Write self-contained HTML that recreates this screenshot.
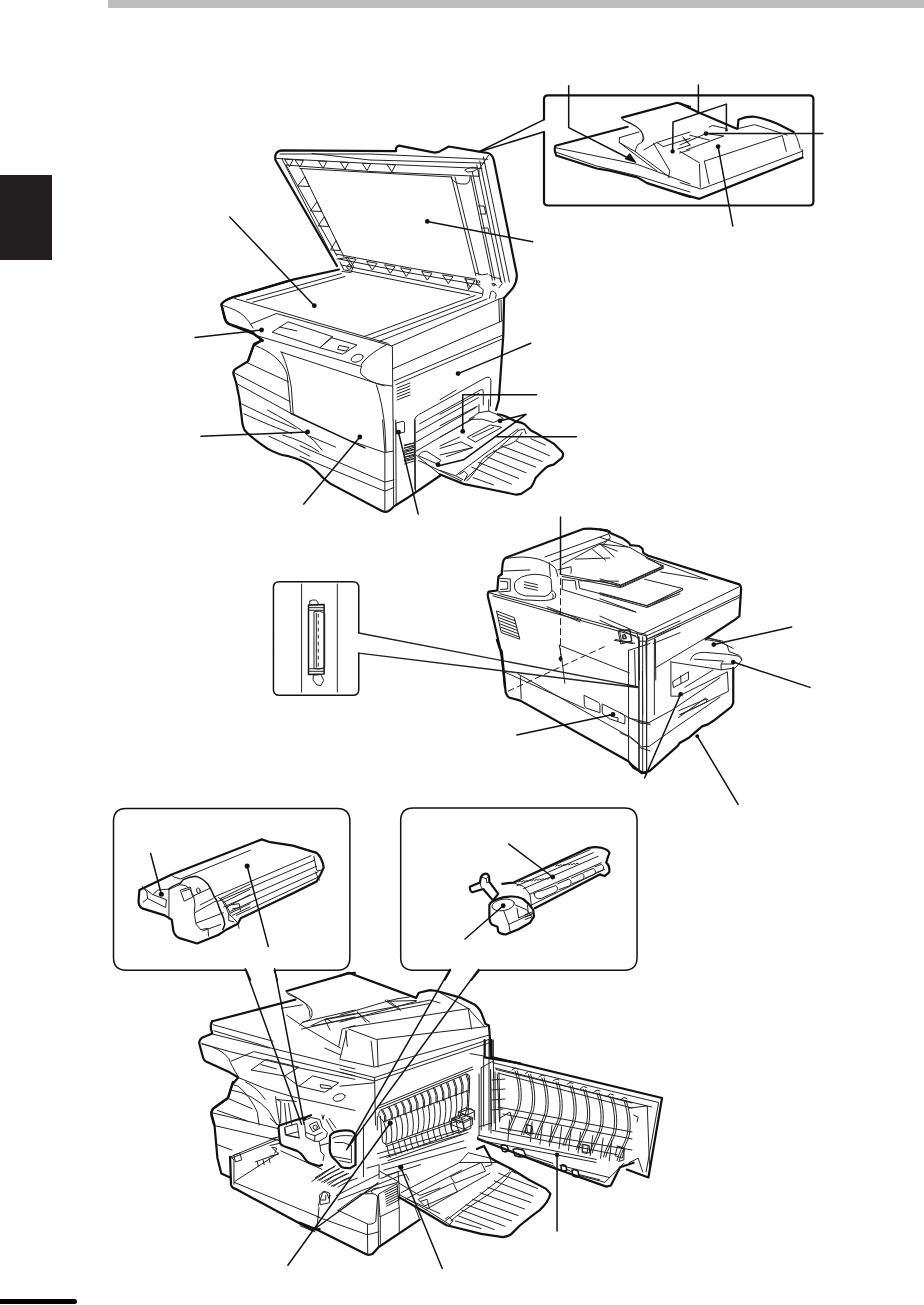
<!DOCTYPE html>
<html><head><meta charset="utf-8">
<style>
html,body{margin:0;padding:0;background:#fff;}
body{width:924px;height:1305px;position:relative;overflow:hidden;font-family:"Liberation Sans",sans-serif;}
#bar{position:absolute;left:108px;top:0;width:816px;height:8px;background:#bebebe;border-bottom:0 solid #b4b4b4;}
#tab{position:absolute;left:0;top:175px;width:52px;height:85px;background:#231f20;}
#foot{position:absolute;left:0;top:1299px;width:77px;height:5px;background:#000;border-radius:0 3px 3px 0;}
svg{position:absolute;left:0;top:0;}
svg *{vector-effect:non-scaling-stroke;}
.k{fill:none;stroke:#111;stroke-width:2.2;stroke-linejoin:round;stroke-linecap:round;}
.m{fill:none;stroke:#111;stroke-width:1.5;stroke-linejoin:round;stroke-linecap:round;}
.t{fill:none;stroke:#222;stroke-width:1;stroke-linejoin:round;stroke-linecap:round;}
.d{fill:#111;stroke:none;}
.w{fill:#fff;}
</style></head>
<body>
<div id="bar"></div>
<div id="tab"></div>
<div id="foot"></div>
<svg width="924" height="1305" viewBox="0 0 924 1305">

<!-- LID (real coords) -->
<g id="lid">
<path class="k" d="M337,266 L275.4,160 Q274,151 282,150.3 L396,151.2 L396,148.4 Q397,146 399,145.6 L434.7,152.6 L439,151.9 L448.8,146.5 L479,151.6 L488,153 Q492,154 493.8,160 L516.7,274 Q517.5,281 513,288 L505,297"/>
<path class="t" d="M280,154 L370,154 L487.7,159.3"/>
<path class="t" d="M312,153.5 L370,160 L484.8,163.1"/>
<path class="t" d="M276.5,158.4 L370,163.5 L481.9,168.5"/>
<path class="t" d="M286,165 L370,171.5 L479,176.3"/>
<path class="t" d="M300,168.5 L451.5,177"/>
<path class="t" d="M282,159 L333,258"/>
<path class="t" d="M286,165 L337,256"/>
<path class="t" d="M300.8,168.4 L344,257"/>
<path class="t" d="M483.4,157 L509.4,282 M479.8,161 L505,282 M476.8,165 L501.1,282 M472.3,172 L494.8,280 M470.8,176 L492.4,280 M488.7,155 L479,169.5 L479,176.3"/>
<path class="t" d="M465,170 Q470,166 478,168 Q475,172 468,172 Z M451,178 Q455,185 466,184 Q470,183 470,177 M478,206 L484,206 L486,214 L480,214 M482,228 L488,228 L489,232"/>
<path class="t" d="M451.5,177 L475.8,275.5 M455,177 L479,275"/>
<path class="t" d="M336,254 L410,268 L476,279 M339,259 L410,273 L480,285 M341,265 L410,278.8 L482,293.6 M345,270 L410,283 L470,295"/>
<path class="t" d="M285.0,159.3 L293.0,159.7 L289.5,166.3 Z
M295.5,159.9 L303.5,160.3 L300.0,166.9 Z
M318.8,161.0 L326.8,161.4 L323.3,168.0 Z
M340.7,162.1 L348.7,162.5 L345.2,169.1 Z
M362.7,163.3 L370.7,163.7 L367.2,170.3 Z
M387.5,164.5 L395.5,164.9 L392.0,171.5 Z
M297.9,186.0 L309.4,186.5 L305.0,177.0 Z
M310.8,211.0 L321.6,211.5 L317.2,202.0 Z
M318.5,226.0 L328.9,226.5 L324.5,217.0 Z
M330.9,250.0 L340.6,250.5 L336.2,241.0 Z
M346.0,257.4 L356.0,259.3 L351.5,265.8 Z
M367.0,261.4 L377.0,263.3 L372.5,269.8 Z
M385.0,264.8 L395.0,266.7 L390.5,273.2 Z
M401.0,267.8 L411.0,269.7 L406.5,276.2 Z
M422.0,271.5 L432.0,273.2 L427.5,279.8 Z
M443.0,275.0 L453.0,276.7 L448.5,283.3 Z
M465.0,278.7 L475.0,280.3 L470.5,287.0 Z"/>
<path class="m" d="M479,151.6 L544,119.7 M481,151.2 L544,131.8"/>
<path class="m" d="M427.3,221.4 L532.6,241.8"/><circle class="d" cx="427.3" cy="221.4" r="2.4"/>
</g>
<g transform="translate(440,255) scale(0.08658)">
<path class="t" d="M410,210 Q480,245 550,220 M570,230 Q590,265 700,270 M420,290 L425,340 Q470,380 500,400 L490,470 M570,500 L590,420 Q630,405 650,460 L640,500"/>
<path class="t" d="M300,280 L330,400 L400,300 M600,330 Q640,320 650,350 M690,280 L720,330 L680,380"/>
<circle class="t" cx="445" cy="310" r="14"/><circle class="t" cx="620" cy="345" r="12"/>
</g>
<path class="t" d="M337,259 L347.7,257.5 L353.5,266 L351,272.5 L342,271.5 M340,262 L344,270"/><circle class="t" cx="349.1" cy="267" r="2.3"/>
<!-- BODY TOP -->
<g id="bodytop">
<path class="k" d="M339,269.5 L294,279.4 L232.9,297.3 Q222,301 221.5,305 L225.8,321.1 Q227,324 231,325 L243.1,329.8 L252.9,333.6 L262.6,340.1 L254,343.9 L248.5,360"/>
<path class="t" d="M234.6,298.5 L387.5,343.3 L391.2,346.1"/>
<path class="t" d="M246.4,300 L341.5,273.5 M252.9,302.2 L345,276.5"/>
<path class="t" d="M364.2,336.5 L475,295.5"/>
<path class="t" d="M370,339.2 L482,297 M379,341.5 L487,299"/>
<path class="t" d="M391.2,346.1 L498.8,299.1 L504.1,297.6"/>
<path class="m" d="M229.8,217 L314.3,305.7"/><circle class="d" cx="314.3" cy="305.7" r="2.4"/>
<path class="m" d="M195,337.5 L261.6,330"/><circle class="d" cx="261.6" cy="330" r="2.4"/>
</g>


<!-- PANEL (real) -->
<g id="panel">
<path class="k" d="M287.5,281.1 L232.9,297.3 Q222,301 221.5,305 L223.8,315.3 Q225,322 229.6,324.1 L252,331.9 L262.7,341"/>
<path class="t" d="M222.6,305.4 Q238,310 244,316 Q250,322 253,328"/>
<path class="t" d="M251.2,323.8 L276.5,313.5 L389.5,345.3"/>
<path class="t" d="M272.5,331.9 L288,321.8 L332.9,336.8 L320.2,347.5 Z"/>
<path class="t" d="M279.3,327 L296.8,330.9"/>
<path class="t" d="M320.2,347.5 L331,337.5 L357,345 L343,354 Z"/>
<path class="t" d="M339.5,345.5 L349,347.5 L346,351 L338,349.5 Z"/>
<ellipse class="t" cx="357.2" cy="358.2" rx="6.2" ry="3.6" transform="rotate(-20 357.2 358.2)"/>
<path class="t" d="M258,336 L361.6,366.6 Q359,372 362,375 Q370,383 383,384.8 L392.3,386"/>
<path class="t" d="M281,352 L384.3,386"/>
<path class="t" d="M386,345 Q372,352 363,362 Q360,366 361.6,366.6"/>
</g>
<path class="t" d="M376.4,384.8 Q383,405 385,430 L386,452"/>
<!-- FRONT BODY (zoom 6.6 at 225,335) -->
<g transform="translate(225,335) scale(0.151515)">
<path class="k" d="M245,35 L195,65 Q183,78 180,95 L150,175 L75,220 Q52,235 55,255 L75,320 L95,420 L110,540 Q115,620 140,640 Q190,690 280,750 Q350,790 420,800 Q500,820 560,860 Q600,890 630,924"/>
<path class="t" d="M200,70 C300,110 380,170 410,260 L435,520"/>
<path class="t" d="M370,110 C400,170 425,260 438,350 L450,520"/>
<path class="t" d="M140,180 L420,310 M62,250 L430,440 M85,325 L440,520 M110,455 L330,560 L470,620 M125,520 Q300,600 440,650"/>
<path class="t" d="M280,495 Q420,570 520,640 Q600,700 640,760 M290,668 Q450,740 560,800 M560,668 L730,740 M380,660 Q520,700 620,770"/>
<path class="m" d="M440,520 L924,745"/>
<path class="m" d="M-158,669 L545,640"/><circle class="d" cx="545" cy="640" r="16"/>
</g>
<!-- BOTTOM RIGHT BODY (zoom 6.6 at 300,420) -->
<g transform="translate(300,420) scale(0.151515)">
<path class="k" d="M140,370 Q170,400 200,420 L540,600 Q560,608 575,605 Q600,595 620,570 L700,520 L924,368"/>
<path class="t" d="M545,0 L560,210 L560,600"/>
<path class="t" d="M615,0 L618,560 M632,0 L635,555"/>
<path class="t" d="M760,0 L762,470"/>
<path class="t" d="M0,170 L560,410 L620,395 M0,240 L560,470 L620,445"/>
<path class="t" d="M340,140 L560,215 L615,205"/>
<path class="t" d="M635,20 L680,8 L690,15 L690,80 L640,92 Z"/>
<path class="t" d="M690,170 L755,150 M690,185 L755,165 M690,200 L755,180 M690,215 L755,195 M690,230 L755,210 M690,245 L755,225 M690,260 L755,240 M690,275 L755,255 M690,290 L755,270"/>
<path class="m" d="M395,112 L25,555"/><circle class="d" cx="395" cy="112" r="16"/>
<path class="m" d="M650,80 L780,620"/><circle class="d" cx="650" cy="80" r="16"/>
</g>

<!-- RIGHT FACE (real) -->
<g id="rightface">
<path class="k" d="M504.1,297.6 L503.3,335.5 L498.8,400 L496,410"/>
<path class="t" d="M392.4,346.8 L393,420"/>
<path class="t" d="M392.7,368.8 L503.3,320.3 M394.2,380.9 L501.8,335.5 M395.8,384.7 L503.3,338.5"/>
<path class="t" d="M498.8,299.1 L499.5,322 M501,300 L501.5,320"/>
<path class="t" d="M397,388 L410,383 M397,391 L410,386 M397,394 L410,389 M397,397 L410,392 M397,400 L410,395"/>
</g>
<path class="m" d="M458.1,373.6 L530.7,343.3"/><circle class="d" cx="458.1" cy="373.6" r="2.4"/>
<!-- BYPASS DOOR (zoom 4.863 at 400,370) -->
<g transform="translate(400,370) scale(0.205628)">
<path class="t" d="M72,580 L70,245 Q72,228 90,218 L415,38 Q440,28 442,50 L440,175"/>
<path class="t" d="M95,262 L395,95 Q405,92 405,105 L405,170"/>
<path class="t" d="M78,305 L380,135 M78,350 L370,182 M78,395 L362,230"/>
<path class="t" d="M20,365 L70,355 M20,380 L70,370 M20,395 L70,385 M20,410 L70,400 M20,425 L70,415 M20,440 L70,430"/>
<path class="t" d="M80,415 L190,505 L300,550 M90,440 L300,540"/>
<path class="t" d="M90,415 Q100,395 130,395 L200,440 L180,455 Z"/>
</g>
<!-- BYPASS TRAY (zoom 6.16 at 440,390) -->
<g transform="translate(440,390) scale(0.162338)">
<path class="k" d="M355,150 Q380,150 410,165 L470,195 Q505,200 520,210 L560,250 L600,270 L700,330 L740,370 Q770,390 750,420 L700,460 Q660,470 650,480 L620,510 L590,540 Q575,580 560,600 L500,640 L470,645 L300,610 L150,580 L100,560 L0,520"/>
<path class="t" d="M0,495 L100,530 L140,552 M100,525 L400,300 L480,240 M150,555 L480,252"/>
<path class="t" d="M165,560 Q210,520 260,430 Q300,390 400,345 Q460,325 480,300 L505,262"/>
<path class="t" d="M560,300 L650,340 M470,315 L675,405 M380,345 L630,440 M330,375 L590,475 M285,410 L530,510 M235,445 L485,545 M195,475 L440,580 M205,540 L330,585"/>
<path class="t" d="M0,360 L130,320 L200,355 L40,410 M0,400 L200,355"/>
<path class="t" d="M170,290 L310,215 L380,230 L220,320 Z M200,290 L330,230"/>
<path class="t" d="M180,180 L240,140 L300,130 L350,150 L390,175 L330,200 L260,180 Z M240,140 L240,90 M300,130 L300,60"/>
<path class="t" d="M0,60 L100,0 M0,150 L240,20 M0,220 L230,100 M0,290 L200,180 M0,345 L120,290"/>
<path class="t" d="M120,520 L150,500 L170,520 L150,560 M480,250 L520,240 L530,270"/>
<path class="m" d="M595,30 L140,30 L140,255"/><circle class="d" cx="140" cy="255" r="15"/>
<path class="m" d="M0,465 L145,430 L530,150 M370,190 L530,150"/><circle class="d" cx="370" cy="190" r="15"/>
<path class="m" d="M350,288 L840,288"/>
<circle class="d" cx="-12" cy="460" r="15"/>
</g>

<!-- ADF INSET -->
<g id="adfinset">
<path class="k" d="M544,132 L544,201.5 Q544,205.5 548,205.5 L809.4,205.5 Q813.4,205.5 813.4,201.5 L813.4,99.4 Q813.4,95.4 809.4,95.4 L548,95.4 Q544,95.4 544,99.4 L544,119.5"/>
<path class="m" d="M568.7,85.7 L568.7,127.6 L633,160.5"/>
<path class="d" d="M636.8,163.2 L624.4,159 L629.8,153 Z"/>
<path class="m" d="M698.4,85 L698.4,113.5"/>
<path class="m" d="M672.6,151.4 L673,122 L726.4,104.1 L726.4,130.3"/><circle class="d" cx="672.6" cy="151.4" r="2.2"/><circle class="d" cx="726.4" cy="130.3" r="1.3"/>
<path class="m" d="M706,133.6 L822.9,133.6"/><circle class="d" cx="706" cy="133.6" r="2.3"/>
<path class="m" d="M718.1,146.6 L732.8,226.1"/><circle class="d" cx="718.1" cy="146.6" r="2.3"/>
</g>
<g transform="translate(540,80) scale(0.162338)">
<path class="k" d="M540,288 L95,405 Q88,420 92,440 L100,465 L350,545 L430,558 L600,600 L660,635 L924,720"/>
<path class="t" d="M100,418 L600,520 L924,640 M100,445 L350,530 L600,590 L924,690"/>
<path class="k" d="M505,232 L845,140 L924,165"/>
<path class="t" d="M505,232 Q510,250 560,270 Q630,300 640,360 Q640,380 600,400 L585,440 L800,600 M510,245 Q560,262 600,290 Q650,330 630,380"/>
<path class="t" d="M490,355 L610,320 M490,355 L488,385 L585,440 M488,385 L720,560"/>
<path class="t" d="M640,430 L720,385 L924,320 M720,385 L760,410 L924,360 M700,390 L800,560 L790,600"/>
<path class="t" d="M850,425 L924,400 M860,450 L924,430 M880,350 L924,400"/>
</g>
<g transform="translate(680,80) scale(0.162338)">
<path class="k" d="M0,145 L115,200 L350,300"/>
<path class="k" d="M355,300 L360,245 Q400,225 450,225 Q520,235 600,270 L700,320"/>
<path class="t" d="M700,320 Q720,340 740,420 M745,430 L755,430 L755,478 L120,730 M750,440 L130,672 L0,632"/>
<path class="k" d="M755,478 L120,732 L0,700"/>
<path class="t" d="M150,500 L630,342 L655,440 M120,520 L125,660 M150,500 L180,640 M0,440 L120,510 M0,400 L160,330 L270,345 L40,430"/>
<path class="t" d="M180,290 L200,280 L290,300 M355,300 L460,275 L600,320 L660,340"/>
<path class="t" d="M20,360 L60,400 M60,340 L180,370"/>
</g>

<!-- COPIER 2 -->
<g transform="translate(480,505) scale(0.21645)">
<path class="k" d="M100,320 L85,330 L80,395 L40,400 Q33,410 38,430 L65,540 L92,660 L100,700 L110,790 L115,840"/>
<path class="k" d="M100,320 L105,270 Q108,250 120,243 L480,110 Q540,105 598,122"/>
<path class="t" d="M115,248 Q200,232 270,250 Q330,268 350,295 L360,330 M320,265 L325,330 M110,305 L230,300 M300,240 L590,135 M330,262 L600,160 M360,300 L420,285 Q425,300 420,315"/>
<path class="t" d="M380,275 L555,180 L690,195 M520,205 L580,255 M555,180 L620,240 M440,250 L600,245"/>
<path class="t" d="M370,320 L650,372 L845,285 L690,195 M650,372 L655,380 L848,292 M380,330 L650,382"/>
<path class="t" d="M455,350 L460,385 L770,465 L924,400 M770,465 L775,472 L924,410 M460,350 L640,352"/>
<path class="t" d="M380,345 L440,350 L445,390 M380,390 L720,495 M380,345 L380,390"/>
<path class="t" d="M160,360 Q180,325 250,320 Q310,322 328,340 L332,395 Q320,420 300,422 L210,420 Q165,410 160,385 Z M205,355 L265,368 M205,368 L265,381 M205,381 L265,394"/>
<path class="t" d="M330,395 Q355,400 348,428 Q330,442 280,442 L200,438 L130,420 L92,410 M335,410 Q345,420 335,432"/>
<path class="t" d="M82,338 L140,342 L140,398 L85,402 M95,352 L128,355 L128,388 L95,390"/>
<path class="t" d="M40,405 L740,598 M60,420 L720,605 M310,470 L465,530 M310,478 L462,540"/>
<path class="t" d="M640,582 L690,575 L702,628 L652,642 Z M620,625 L705,640 M660,600 L670,598 L672,615 L662,618 Z"/>
<path class="t" d="M740,598 L770,604 L924,535 M770,620 L924,560 M800,640 L924,590"/>

<path class="t" d="M735,610 L737,650 M770,612 L771,650"/>
<path class="t" d="M78,490 L158,520 L184,620 L100,590 Z M82,505 L162,535 M86,520 L166,550 M90,535 L170,565 M94,550 L174,580 M98,565 L178,595 M102,580 L182,610"/>
<path class="m" d="M372,55 L372,320"/>
<path class="t" d="M372,340 L372,700 M130,860 L585,650" stroke-dasharray="6,4"/>
<path class="d" d="M372,695 L382,710 L372,725 L362,710 Z"/>
</g>
<g transform="translate(600,520) scale(0.17316)">
<path class="k" d="M0,55 L40,60 L60,75 L130,105 L165,130 L175,145 L225,150 L245,165 L250,190 L275,205 L805,372 Q815,378 815,395 L805,555 L780,575 L620,680 L610,690"/>
<path class="t" d="M0,555 L220,650 M0,580 L220,680 M240,660 L805,385 M270,690 L805,435 M275,700 L805,447"/>
<path class="t" d="M215,650 L265,660 L270,700 L225,700 Z M225,700 L228,924 M265,700 L268,924 M320,690 L322,924"/>
<path class="t" d="M0,340 L120,375 L365,265 L270,222 M120,385 L365,275 L365,265 M0,350 L120,385"/>
<path class="t" d="M0,420 L270,495 L475,395 L258,342 M270,505 L478,405 L475,395 M0,430 L270,505 M0,455 L205,530"/>
<path class="t" d="M265,215 L620,345 M350,300 L620,345 M0,100 L160,155 M0,140 L100,180 M40,60 L60,100 L20,140"/>
<path class="t" d="M115,640 L175,635 L182,700 L128,705 Z M90,690 L200,712 M135,670 L150,668 L152,685 L137,687 Z"/>
<path class="t" d="M610,690 L700,705 L735,725 L745,760 L800,780 L820,800 M620,680 L710,700"/>
</g>
<g transform="translate(490,640) scale(0.17316)">
<path class="k" d="M40,0 L55,45 L68,65 L80,190 L90,300 Q95,322 110,332 L175,350 L800,700 L830,740 L870,760 L900,770"/>
<path class="t" d="M400,30 L805,190 M85,185 L545,395 M160,195 L800,555 M175,210 L180,340 M400,30 L415,110 L432,250"/>
<path class="t" d="M545,320 L625,360 Q635,365 635,380 L635,420 L560,395 Q545,388 545,375 Z M650,370 L770,430 Q780,435 780,450 L778,485 L690,455 L650,425 Z M690,430 L700,440 L740,450 L738,470"/>
<path class="t" d="M800,60 L800,700 M835,60 L840,270 M860,40 L862,755 M880,180 L882,430 M905,40 L905,762 M800,60 L924,20 M800,450 L924,480 M805,555 L860,600 M860,470 L924,490 M860,620 L924,640"/>
<path class="m" d="M710,430 L155,548"/><circle class="d" cx="710" cy="430" r="14"/>
</g>
<g transform="translate(630,590) scale(0.194805)">

<path class="k" d="M0,890 L60,940 L100,930 L245,800 L255,785 L300,760 L370,700 L400,690 L430,670 L520,600 L530,580 L530,400"/>
<path class="t" d="M45,240 L45,930 M65,240 L65,935 M85,240 L85,940 M125,250 L125,640"/>

<path class="t" d="M130,400 L390,245 L450,260 L530,300 M210,365 L210,545 L250,545 M215,370 L470,410 M220,470 L300,420 L300,460 L225,500 Z M260,440 L262,480"/>
<path class="t" d="M310,360 Q320,320 380,320 L500,330 L560,340 L575,360 L540,400 L470,410 Q460,380 480,365 L330,355 M470,380 L530,380"/>
<path class="t" d="M250,545 L500,420 L505,520 L260,640 M250,620 L390,560 L395,575 L255,640"/>
<path class="m" d="M430,280 L830,190"/><circle class="d" cx="430" cy="280" r="12"/>
<path class="m" d="M530,370 L924,500"/><circle class="d" cx="530" cy="370" r="12"/>
<path class="m" d="M260,535 L75,965"/><circle class="d" cx="260" cy="535" r="12"/>
<path class="m" d="M345,750 L555,1100"/><circle class="d" cx="345" cy="750" r="10"/>
</g>

<path class="t" d="M620,712.7 L628.7,717.6 L641.6,723.6 L648.1,723 L672,710 L720,677.6 M620,732.8 L629.7,737.1 L641.6,746.8 L649.2,746.3 L677.4,726.3 L720,697 M678.4,717.6 L705.5,698.1 L708,700 M684.9,687.3 L713,670"/>
<!-- PARALLEL PORT INSET -->
<g transform="translate(265,570) scale(0.12987)">
<path class="m" d="M722,485 L722,135 Q722,90 677,90 L110,90 Q65,90 65,135 L65,920 Q65,965 110,965 L677,965 Q722,965 722,920 L722,640"/>
<path class="t" d="M282,108 L282,940 M557,108 L557,940"/>
<path class="m" d="M335,270 L455,265 L455,800 L335,805 Z"/>
<path class="t" d="M380,320 Q420,310 460,330 L460,750 Q420,770 380,760 Z M395,335 L395,750"/>
<path class="t" d="M410,340 L410,750" stroke-dasharray="3,4" stroke-width="2"/>
<path class="t" d="M335,290 L455,290 M335,310 L455,310 M335,780 L455,780 M335,760 L455,760"/>
<path class="t" d="M345,240 Q360,225 390,232 Q415,245 410,270 L350,268 Q338,255 345,240 Z M375,810 L430,805 L452,850 L430,890 L400,885 L372,850 Z"/>
</g>
<path class="t" style="stroke-width:1.3" d="M358.8,633 L637.6,686.7 M358.8,653.1 L637.6,687.5"/>

<!-- TONER INSET -->
<g transform="translate(100,800) scale(0.28138)">
<path class="m" d="M520,605 L93,605 Q48,605 48,560 L48,75 Q48,30 93,30 L843,30 Q888,30 888,75 L888,560 Q888,605 843,605 L620,605"/>
<path class="m" d="M520,605 L535,640 M620,605 L630,640"/>
<path class="k" d="M255,265 L575,140 L605,150 L640,155 L685,162 L770,188 Q790,205 795,240 L785,262 L770,290 L690,330 L500,420 L490,440 L450,460 L420,480 L345,510 L280,490 Q262,480 260,460 L255,425 L230,410 L150,385 Q137,378 137,360 L140,320 L255,265"/>




<path class="t" d="M405,345 L750,198 M420,360 L760,215 M440,380 L770,235 M465,395 L775,255 M485,410 L780,272 M500,420 L765,290"/>

<path class="t" d="M760,200 L770,250 L790,250 M765,255 L780,285"/>
<path class="m" d="M180,190 L218,335"/><circle class="d" cx="218" cy="335" r="9"/>
<path class="m" d="M523,235 L598,520"/><circle class="d" cx="523" cy="235" r="9"/>
</g>

<g transform="translate(130,840) scale(0.12987)">
<path class="t" d="M310,265 L340,285 L390,300 L924,80"/>
<path class="m" d="M300,378 Q330,350 390,330 L410,305 Q460,282 510,280 Q560,295 600,340 Q630,390 650,440 L665,460 L690,530 L720,600 L730,650 L715,690"/>
<path class="t" d="M300,378 L300,610 M300,380 L380,345 Q440,345 460,380 L490,430 L500,500 L495,560 L500,600 L510,650 L545,690 M380,345 L410,305"/>
<path class="t" d="M95,360 L130,400 L135,450 L275,520 L280,460 L175,420 Z M175,420 L215,385 L300,378 M135,450 L100,480"/>
<path class="t" d="M390,385 L465,362 L482,440 L420,470 Z M405,395 L455,380"/>
<ellipse class="t" cx="527" cy="390" rx="13" ry="22" transform="rotate(-15 527 390)"/>
<path class="t" d="M500,560 L660,470 M510,640 L720,560 M545,690 L600,680 L605,740 M560,700 L700,650 M540,500 L640,450 M490,430 L620,370"/>
<path class="t" d="M680,440 Q720,470 740,520 L760,570 Q800,600 830,640 L840,680 M700,450 Q740,480 755,530 L775,570 M760,570 L760,620 L800,630"/>
<path class="t" d="M700,450 L924,340 M720,480 L924,380 M740,520 L924,420 M780,560 L924,490 M790,580 L924,515"/>
<path class="t" d="M780,500 L840,490 L850,540 M790,530 L840,520"/>
</g>
<!-- DRUM INSET -->
<g transform="translate(390,800) scale(0.28138)">
<path class="m" d="M215,605 L83,605 Q38,605 38,560 L38,73 Q38,28 83,28 L833,28 Q878,28 878,73 L878,560 Q878,605 833,605 L318,605"/>
<path class="m" d="M215,605 L195,640 M318,605 L290,640"/>
</g>
<g transform="translate(465,840) scale(0.162338)">
<path class="k" d="M230,270 L300,262 L760,50 Q800,40 840,48 Q885,60 890,80 L878,112 L870,140 Q895,160 888,200 L860,222 L830,212 L430,420"/>
<path class="k" d="M150,400 Q160,370 240,352 Q320,340 360,365 Q400,395 420,430 L425,470 L400,510 L330,550 L250,582 Q215,580 205,565 L200,535 L165,520 Q150,505 150,480 Z"/>
<ellipse class="t" cx="235" cy="400" rx="70" ry="35" transform="rotate(-10 235 400)"/>
<path class="t" d="M240,440 L270,520 L280,575 M270,520 L420,450 M310,400 L380,430 L410,470"/>
<path class="t" d="M320,420 L330,480 L390,455 L385,400"/>
<path class="k" d="M30,288 L92,262 L98,228 Q110,205 135,208 L148,222 L150,258 L205,332 L172,372 L112,302 L45,322 Q30,318 30,288 Z"/>
<path class="t" d="M92,262 L100,290 L112,302 M98,228 L130,238 L148,222 M130,238 L135,265 L150,258"/>
<path class="t" d="M300,265 L360,285 L400,335 L410,410 M300,262 L770,60 M320,282 L790,78 M360,300 L820,100 M395,335 L840,140 M410,400 L860,180"/>
<path class="t" d="M330,258 L340,252 L350,258 L360,250 L370,256 L380,248 L390,254 L400,246 L410,252 L420,244 L430,250 L440,242 L450,248 L460,240 L470,246 L480,238 L490,244 L500,236 L510,242 L520,234"/>
<path class="t" d="M560,160 L570,154 L580,160 L590,152 L600,158 L610,150 L620,156 L630,148 L640,154 L650,146 L660,152 L670,144 L680,150 L690,142 L700,148"/>
<path class="t" d="M425,330 Q440,315 480,310 L560,280 Q580,300 560,320 L470,360 Q430,370 425,330 Z M570,270 L640,240 Q660,250 650,280 L580,305 M655,235 L720,205 Q740,215 730,240 L660,270 M730,200 L790,175 Q810,185 800,210 L740,235 M800,165 L840,150 Q860,160 850,185 L810,200"/>
<path class="t" d="M370,460 L410,445 M370,475 L410,460 M370,490 L410,475"/>
<path class="m" d="M270,25 L540,228"/><circle class="d" cx="540" cy="228" r="15"/>
<path class="m" d="M235,405 L0,610"/><circle class="d" cx="235" cy="405" r="15"/>
</g>

<!-- OPEN COPIER upper-left (zoom 5.775 at 195,965) -->
<g transform="translate(195,965) scale(0.17316)">
<path class="m" d="M290,22 L615,920 M460,22 L630,920"/>
<path class="k" d="M530,150 L880,50 L924,45"/>
<path class="t" d="M525,150 Q530,170 560,178 Q640,210 672,255 Q685,295 660,318 L620,332 L605,348 M535,160 Q600,190 640,225 Q668,260 665,300"/>
<path class="k" d="M100,325 L370,255 L560,205 L580,200"/>
<path class="k" d="M100,325 Q88,340 92,370 L100,395 L40,420 Q22,435 25,455 L45,530 Q52,555 70,560 L200,620 L250,650 L215,690 L190,770 L105,830 Q92,845 95,870 L110,924"/>
<path class="t" d="M105,345 L450,440 M110,380 L360,455 M105,400 L430,480 M360,455 L440,480 L924,600 M500,250 L620,230 M530,290 L610,345 L840,480"/>
<path class="t" d="M40,455 L200,500 L580,590 L924,660 M210,555 L340,500 L924,640"/>
<path class="t" d="M40,455 Q150,480 195,540 Q210,580 250,645"/>
<path class="t" d="M325,605 L410,545 L600,590 L520,640 Z M380,575 L470,600 M520,640 L600,700 L680,640 L830,680 L750,735 L600,700 M725,690 L785,700 L790,715 L730,710 Z"/>
<ellipse class="t" cx="832" cy="765" rx="36" ry="20" transform="rotate(-18 832 765)"/>
<path class="t" d="M250,650 Q400,720 560,760 L924,840 M215,690 L250,700 Q320,760 360,850 L370,924"/>
<path class="t" d="M465,760 L470,800 L490,924 M540,800 L560,924 M190,770 L330,830 M130,840 L300,900"/>
<path class="t" d="M620,330 L924,260 M615,370 L924,300 M670,350 L760,310 L924,280 M760,310 L790,330 M830,470 L850,370 L924,350 M750,480 L840,520 M870,380 L880,470"/>
</g>
<path class="m" d="M287.9,1265.3 L390.1,1123.3 M312.5,1230.5 L378,1183"/><circle class="d" cx="390.1" cy="1123.3" r="2.4"/>

<!-- OPEN COPIER ADF right (zoom 5.775 at 340,965) -->
<g transform="translate(340,965) scale(0.17316)">
<path class="m" d="M635,25 L38,1066 M800,25 L38,1066"/>
<path class="k" d="M0,62 L50,45 L440,190 L455,160 L520,145 L560,150 L700,190 L780,230 Q815,260 825,300 L840,340 L860,350 L865,410 L870,540"/>
<path class="t" d="M0,290 L270,210 L440,205 M100,270 L150,330 M260,205 L350,262 M0,330 L440,210 M330,195 L400,185 M270,210 L330,195"/>
<path class="t" d="M50,370 L210,430 L850,355 M40,380 L0,540 M215,430 L220,590 M180,440 L195,585"/>
<path class="t" d="M0,545 L200,590 L860,405 M0,600 L200,650 L860,430 M0,620 L200,670 L860,450"/>
<path class="t" d="M740,250 L760,370 M560,150 L740,250 L835,355"/>
<path class="t" d="M200,650 L205,924 M0,700 L200,680"/>
</g>

<!-- OPEN COPIER fuser (zoom 5.775 at 360,1040) -->
<g transform="translate(360,1040) scale(0.17316)">

<path class="t" d="M530,460 L600,430 L640,450 L640,510 L570,540 L530,520 Z M570,420 L640,395 L660,410 L660,460 M530,460 L570,480 L640,450"/>
<path class="t" d="M700,160 L700,520 M745,110 L745,520 M770,100 L775,480 M700,160 L770,120 M690,500 L760,480"/>
<path class="k" d="M720,0 L720,100 L924,135"/>
<path class="t" d="M745,0 L745,100 M770,0 L770,95"/>


<path class="t" d="M20,490 L20,790 M100,440 L100,520 M40,740 L110,720 L110,800 M120,800 L220,760 L230,924"/>
<circle class="d" cx="237" cy="735" r="14"/>
<circle class="d" cx="175" cy="480" r="14"/>
</g>

<path class="t" d="M324.8,1019.7 L419.4,1002.3 M312.3,1026 L429.3,1003.6 M349.7,1027.2 L469.2,1008.5 M357.1,1012.3 L369.6,1022.2 M387,999.8 L399.4,1008.5 M325,1020 L330,1030 M419.4,1002.3 L430,1000 L440,1003"/>
<!-- FUSER (zoom 9.24 at 375,1060) -->
<g transform="translate(375,1060) scale(0.108225)">
<path class="t" d="M30,425 L900,65 M35,445 L905,85 M60,460 L840,130 Q870,125 875,160 L870,300 L850,285 M80,570 L850,285 M100,780 L830,520 M60,460 Q30,470 35,520 L80,570 M50,520 L70,760 L100,780 M870,300 L860,500 L830,520"/>
<path class="t" d="M60,460 Q101,515 90,570 M74,463 Q112,518 102,572 M120,435 Q161,491 149,548 M134,438 Q172,494 161,550 M180,409 Q220,468 208,526 M194,412 Q231,470 220,528 M240,384 Q280,444 268,504 M254,387 Q291,447 280,506 M300,358 Q339,420 327,482 M314,361 Q350,423 339,484 M360,333 Q399,397 386,460 M374,336 Q410,399 398,462 M420,308 Q459,373 445,438 M434,311 Q470,376 457,440 M480,282 Q518,349 505,417 M494,285 Q529,352 517,419 M540,257 Q578,326 564,395 M554,260 Q589,328 576,397 M600,232 Q638,302 623,373 M614,235 Q649,305 635,375 M660,206 Q697,278 682,351 M674,209 Q708,281 694,353 M720,181 Q757,255 742,329 M734,184 Q768,257 754,331 M780,155 Q816,231 801,307 M794,158 Q827,234 813,309 M840,130 Q876,208 860,285 M854,133 Q887,210 872,287"/>
<path class="t" d="M80,570 Q120,675 100,780 M131,551 Q170,657 149,763 M183,532 Q220,639 197,745 M234,513 Q270,620 246,728 M285,494 Q320,602 295,711 M337,475 Q370,584 343,693 M388,456 Q420,566 392,676 M439,437 Q470,548 441,659 M491,418 Q520,530 489,641 M542,399 Q570,512 538,624 M593,380 Q620,493 587,607 M645,361 Q670,475 635,589 M696,342 Q720,457 684,572 M747,323 Q770,439 733,555 M799,304 Q820,421 781,537 M850,285 Q870,402 830,520"/>
<path class="t" d="M100,800 L830,540 M110,900 L850,640 M120,930 L860,670 M110,790 q10,60 30,110 M163,771 q10,60 30,110 M216,752 q10,60 30,110 M269,732 q10,60 30,110 M322,713 q10,60 30,110 M375,694 q10,60 30,110 M428,675 q10,60 30,110 M482,655 q10,60 30,110 M535,636 q10,60 30,110 M588,617 q10,60 30,110 M641,598 q10,60 30,110 M694,578 q10,60 30,110 M747,559 q10,60 30,110 M800,540 q10,60 30,110"/>
<path class="t" d="M710,540 L800,500 L900,530 L900,600 L820,640 L710,600 Z M710,540 L820,580 L900,540 M820,580 L820,640 M770,480 L840,440 L920,470 L920,520 M770,480 L770,520 M770,480 L850,510 L920,475"/>
</g>
<!-- OPEN COPIER side door (zoom 4.4 at 470,1040) -->
<g transform="translate(470,1040) scale(0.22727)">
<path class="k" d="M95,0 L95,75 L845,255 L785,605 L690,570"/>
<path class="t" d="M100,100 L830,275 L775,580 M115,130 L800,295"/>


<path class="k" d="M35,435 L360,560 L600,645 L620,640 L660,560 L720,540"/>


<path class="t" d="M250,370 L270,380 L265,420 L245,410 Z M500,460 L520,465 L515,500 L495,495 Z M650,470 L680,480 L670,520 L640,510 Z"/>
<path class="t" d="M700,300 L780,290 L790,560 M720,330 L740,340 L735,360 M700,540 L740,520 L760,580"/>
<path class="t" d="M90,130 L95,380 M60,140 L60,380 M40,150 L40,420 M0,60 L60,70 L60,140 M120,150 L130,360"/>



<path class="m" d="M383,505 L383,840"/><circle class="d" cx="383" cy="505" r="10"/>
</g>

<!-- OPEN COPIER front door/toner (zoom 5.133 at 195,1080) -->
<g transform="translate(195,1080) scale(0.194805)">
<path class="k" d="M195,10 L170,90 L95,145 Q82,158 85,175 L100,230 L115,400 L135,480 L180,500"/>
<path class="t" d="M95,170 L430,250 M105,235 L430,310 M110,330 L190,360 M180,50 Q300,70 380,160 L420,230 M260,10 Q320,40 360,100"/>
<path class="k" d="M180,395 L185,540 Q190,555 210,560 L600,770 L640,765"/>
<path class="t" d="M180,395 L420,295 M190,400 L425,305 M200,525 L640,705 M205,520 L430,375 M200,535 L200,410 M185,395 L200,410"/>
<path class="t" d="M200,385 L230,375 L240,410 L210,420 Z M640,590 L660,570 L690,580 L690,630 L645,640 Z"/>
<path class="t" d="M310,420 L410,385 M320,420 L325,445 M350,410 L355,435 M380,400 L385,425 M395,345 L420,350 L410,375"/>





<path class="t" d="M620,500 Q670,470 720,440 M630,515 Q690,480 740,455 M650,525 Q700,495 760,470 M600,520 Q650,490 690,460 M680,530 L780,480 M700,545 L800,500"/>



<path class="t" d="M420,100 L440,110 L440,220 M460,120 L470,230 M420,100 L520,110"/>
</g>

<g transform="translate(475,1120) scale(0.17316)">
<path class="t" d="M100,60 L820,200 M15,100 L20,88 L700,228 M15,100 L30,118 L460,268 L470,290 M490,262 L775,332 M30,118 L700,245 M600,320 L750,360 L770,340 L860,250"/>
<path class="m" d="M150,150 Q160,140 185,150 L195,175 Q180,190 160,180 Z M220,170 Q240,160 280,175 L295,210 Q270,220 230,205 Z M495,262 Q510,255 525,265 L530,290 Q512,300 500,290 Z M560,290 Q575,282 595,295 L600,325 Q580,335 565,322 Z"/>
<path class="t" d="M195,175 L225,185 M295,200 L450,250 M530,285 L560,300 M600,315 L720,345"/>
<path class="t" d="M300,30 L330,35 L335,80 L305,75 Z M620,140 L660,148 L662,190 L622,183 Z M820,150 L860,160 L860,230 L830,240"/>
<path class="t" d="M200,0 L190,120 M330,10 L320,125 M390,20 L375,140 M445,30 L430,150 M500,40 L485,165 M555,55 L540,175 M610,70 L595,190 M680,90 L665,205 M740,105 L725,220 M790,120 L775,235"/>

</g>
<path class="k" d="M498.5,1162.5 L490.5,1158 L484,1146 L477,1149"/>
<!-- DOOR RIBS (real) -->
<g id="doorribs">
<path class="t" d="M515.0,1071.0 C520.0,1086.0 520.0,1101.0 517.0,1109.0 S510.0,1123.0 508.0,1131.0 M517.2,1071.0 C522.2,1086.0 522.2,1101.0 519.2,1109.0 S512.2,1123.0 510.2,1131.0 M528.5,1074.5 C533.5,1089.5 533.5,1104.5 530.5,1112.5 S523.5,1126.5 521.5,1134.5 M530.7,1074.5 C535.7,1089.5 535.7,1104.5 532.7,1112.5 S525.7,1126.5 523.7,1134.5 M542.0,1078.0 C547.0,1093.0 547.0,1108.0 544.0,1116.0 S537.0,1130.0 535.0,1138.0 M544.2,1078.0 C549.2,1093.0 549.2,1108.0 546.2,1116.0 S539.2,1130.0 537.2,1138.0 M556.0,1082.0 C561.0,1097.0 561.0,1112.0 558.0,1120.0 S551.0,1134.0 549.0,1142.0 M558.2,1082.0 C563.2,1097.0 563.2,1112.0 560.2,1120.0 S553.2,1134.0 551.2,1142.0 M570.0,1085.5 C575.0,1100.5 575.0,1115.5 572.0,1123.5 S565.0,1137.5 563.0,1145.5 M572.2,1085.5 C577.2,1100.5 577.2,1115.5 574.2,1123.5 S567.2,1137.5 565.2,1145.5 M583.5,1089.5 C588.5,1104.5 588.5,1119.5 585.5,1127.5 S578.5,1141.5 576.5,1149.5 M585.7,1089.5 C590.7,1104.5 590.7,1119.5 587.7,1127.5 S580.7,1141.5 578.7,1149.5 M597.0,1093.0 C602.0,1108.0 602.0,1123.0 599.0,1131.0 S592.0,1145.0 590.0,1153.0 M599.2,1093.0 C604.2,1108.0 604.2,1123.0 601.2,1131.0 S594.2,1145.0 592.2,1153.0 M610.5,1097.0 C615.5,1112.0 615.5,1127.0 612.5,1135.0 S605.5,1149.0 603.5,1157.0 M612.7,1097.0 C617.7,1112.0 617.7,1127.0 614.7,1135.0 S607.7,1149.0 605.7,1157.0 M624.0,1100.5 C629.0,1115.5 629.0,1130.5 626.0,1138.5 S619.0,1152.5 617.0,1160.5 M626.2,1100.5 C631.2,1115.5 631.2,1130.5 628.2,1138.5 S621.2,1152.5 619.2,1160.5"/>
<path class="t" d="M512.0,1070.0 l3,-2 l3,1 M525.5,1073.5 l3,-2 l3,1 M539.0,1077.0 l3,-2 l3,1 M553.0,1081.0 l3,-2 l3,1 M567.0,1084.5 l3,-2 l3,1 M580.5,1088.5 l3,-2 l3,1 M594.0,1092.0 l3,-2 l3,1 M607.5,1096.0 l3,-2 l3,1 M621.0,1099.5 l3,-2 l3,1"/>
<path class="t" d="M495,1068 L632,1103 M498,1073 L632,1108 M498,1107 L632,1132 M503,1114 L632,1139 M500,1128 L632,1150"/>
<path class="t" d="M490.6,1070 L491,1133 M495,1072 L495.5,1130 M499,1073 L500,1120 M492,1080 L505,1079 M492,1090 L505,1089 M492,1100 L505,1099 M492,1110 L503,1109 M500,1118 L510,1112 L512,1120"/>
</g>
<!-- OPEN COPIER bypass tray (zoom 4.62 at 360,1130) -->
<g transform="translate(360,1130) scale(0.21645)">
<path class="k" d="M180,310 L300,380 L400,440 L560,480 L660,495 Q690,490 700,480 L740,440 L790,400 L830,370 Q870,335 880,295 L860,272 L780,230 L700,180 L640,150"/>
<path class="t" d="M185,300 L300,365 L395,425 L420,440 M190,290 L460,150 L500,105 L600,130 L610,160 L580,170 M210,320 L470,185 M300,370 L600,200 M395,420 L690,195 M460,150 L640,150"/>
<path class="t" d="M270,320 L430,245 L450,285 L300,350 Z M420,215 L560,150 L580,190 L440,245 Z M280,330 L310,320 L320,360"/>
<path class="t" d="M420,420 Q470,375 560,320 Q640,270 680,220 L700,190 L720,200"/>
<path class="t" d="M395,410 L410,400 L430,420 L410,440 M690,185 L700,180 L720,195"/>
<path class="t" d="M640,200 L820,270 M620,235 L800,305 M590,265 L790,335 M555,290 L760,365 M520,320 L730,395 M490,345 L700,420 M470,370 L670,445 M450,395 L620,460 M440,420 L560,455"/>
<path class="t" d="M80,110 L460,0 M90,130 L470,20 M100,160 L480,50 M110,185 L490,80 M120,210 L280,160 M90,190 L180,240 M0,300 L80,270 L180,240"/>


<path class="m" d="M188,172 L380,640"/><circle class="d" cx="188" cy="172" r="11"/>
</g>
<!-- OPEN COPIER lower box (zoom 6.6 at 300,1150) -->
<g transform="translate(300,1150) scale(0.151515)">
<path class="k" d="M0,480 L110,525 L440,690 Q460,695 480,685 L520,640 L790,460"/>
<path class="t" d="M0,500 L100,540 M110,520 L120,440 L125,380"/>
<path class="t" d="M250,398 L450,490 Q490,490 500,470 L512,310 Q505,290 480,288 L400,290 L250,398 M110,440 L445,560 L520,540 M445,490 L447,690 M515,300 L518,640"/>
<path class="t" d="M520,290 L640,222 L655,380 L530,440 Z M560,280 L640,240 M562,295 L642,255 M564,310 L644,270 M566,325 L646,285 M568,340 L648,300 M570,355 L650,315 M572,370 L652,330"/>
<path class="t" d="M655,380 L655,540 M530,440 L530,620 M240,300 L520,160 M250,330 L660,170 M480,288 L470,270 Q480,250 520,250"/>
<path class="t" d="M120,370 L150,280 Q170,270 180,290 L190,320 L200,300 M140,330 L170,330 L170,300"/>
<path class="t" d="M660,170 L700,160 L720,200 M655,220 L790,300 L924,250 M700,320 L924,420 M760,380 L790,460"/>
<path class="t" d="M100,185 Q160,140 230,110 M130,200 Q190,150 260,125 M160,215 Q220,165 290,140 M190,230 Q250,180 320,155 M220,240 Q280,195 350,170 M250,245 Q310,205 380,185"/>
</g>
<!-- OPEN COPIER toner+drum (zoom 9.24 at 270,1100) -->
<g transform="translate(270,1100) scale(0.108225)">
<path class="k" d="M85,235 L240,185 M85,235 Q78,250 80,270 L92,398 Q100,415 130,428 L250,470 Q290,490 310,525 L335,560 Q350,578 385,590 L455,610 L480,600"/>
<path class="k" d="M240,185 L330,160 L380,140 M330,160 L320,180"/>
<path class="t" d="M140,250 L250,218 L262,292 L152,322 Z M135,262 L142,325 L270,352 L262,292 M152,322 L275,350"/>
<path class="t" d="M310,190 L380,162 L460,180 L482,250 L530,300 L522,342 L452,382 L412,382 L332,342 L322,240 Z M365,230 L430,200 L460,262 L400,292 Z M412,382 L415,330 L482,300 M415,330 L330,300 M452,382 L462,420 L470,480 L500,510 L490,560 M462,420 L540,400"/>
<circle class="t" cx="418" cy="252" r="20"/>
<path class="t" d="M480,140 L490,180 L500,140 M520,180 L560,250 L590,300 M545,170 L610,260"/>
<path class="k" d="M555,330 Q580,295 640,285 Q720,272 762,292 L790,322 L790,600 L742,630 Q690,632 660,620 L630,582 L572,522 Q550,490 552,440 Z"/>
<path class="t" d="M580,352 Q640,318 760,332 M600,392 Q680,380 752,420 L752,580 M640,560 L740,580 M580,520 L740,550"/>
<path class="t" d="M0,170 L80,235 M0,360 L85,340 M0,420 L90,400 M20,440 L80,500 L0,520 M100,470 L480,640"/>
</g>
</svg>
</body></html>
